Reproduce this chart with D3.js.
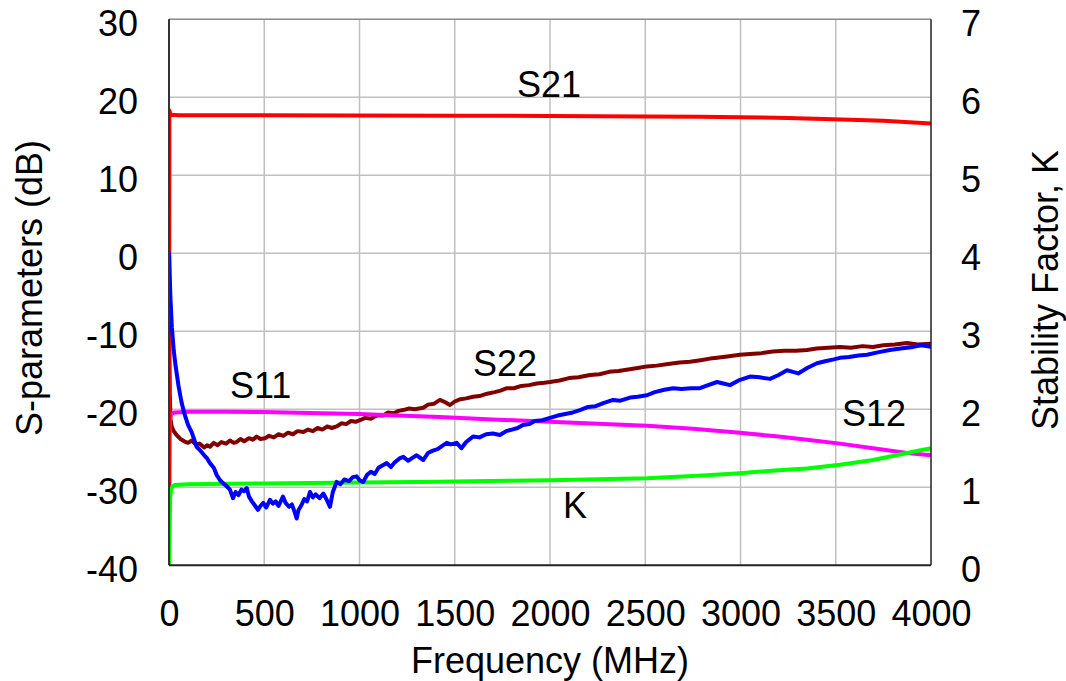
<!DOCTYPE html>
<html>
<head>
<meta charset="utf-8">
<script src="https://cdn.jsdelivr.net/npm/d3@7"></script>
<style>
  html, body { margin: 0; padding: 0; background: #fff; }
  svg { display: block; font-family: "Liberation Sans", Arial, sans-serif; }
</style>
</head>
<body>
<svg id="chart" width="1066" height="681"></svg>
<script>
// ---------------- data ----------------
const xTicks = [0, 500, 1000, 1500, 2000, 2500, 3000, 3500, 4000];
const yTicksDb = [30, 20, 10, 0, -10, -20, -30, -40];
const yTicksK = [7, 6, 5, 4, 3, 2, 1, 0];

// S21 (dB)
const s21Freq = [0, 2, 6, 12, 50, 500, 1000, 1500, 2000, 2500, 2787, 3000, 3250, 3486, 3750, 4000];
const s21Db   = [-40, 18.3, 18.0, 17.75, 17.7, 17.7, 17.68, 17.65, 17.6, 17.55, 17.5, 17.45, 17.35, 17.2, 17.0, 16.65];

// S11 (dB)
const s11Freq = [0,4,8,15,25,35,50,65,80,100,120,145,165,185,200,215,235,250,268,285,300,320,336,350,365,380,395,408,420,435,450,467,480,495,510,530,545,560,575,598,612,630,645,660,670,680,695,710,725,740,755,770,790,810,828,845,860,880,900,920,945,965,985,1000,1020,1040,1060,1080,1100,1120,1143,1165,1185,1210,1230,1255,1280,1300,1335,1360,1385,1410,1440,1458,1480,1510,1535,1560,1596,1630,1665,1700,1737,1770,1800,1830,1858,1890,1920,1960,2000,2040,2080,2120,2157,2200,2240,2280,2331,2370,2420,2460,2509,2550,2600,2646,2690,2740,2787,2830,2877,2910,2945,2990,3050,3100,3155,3200,3244,3275,3303,3350,3401,3450,3490,3522,3570,3620,3664,3720,3784,3840,3906,3950,4000];
const s11Db   = [0,-3,-6,-9.5,-12.5,-14.5,-17,-19,-20.5,-22,-23,-24.8,-25.3,-25.9,-26.3,-26.9,-27.5,-28.4,-29.1,-29.5,-29.8,-30.3,-31.4,-30.6,-31.0,-30.3,-30.5,-30.1,-31.2,-31.8,-32.3,-32.9,-32.4,-32.0,-32.6,-31.6,-32.1,-31.8,-32.4,-31.2,-32.0,-32.5,-32.2,-33.2,-34.0,-32.9,-32.3,-31.5,-31.8,-30.6,-31.3,-30.9,-31.4,-30.8,-31.6,-32.5,-30.6,-29.3,-29.6,-29.0,-29.2,-28.7,-28.6,-29.1,-29.3,-28.4,-28.0,-28.3,-27.5,-27.2,-26.9,-27.4,-26.8,-26.3,-26.1,-26.6,-26.2,-25.9,-26.5,-25.6,-25.3,-25.1,-24.6,-24.3,-24.5,-24.3,-25.0,-24.2,-23.5,-23.6,-23.2,-23.1,-23.3,-22.8,-22.6,-22.4,-22.0,-21.9,-21.5,-21.4,-21.1,-20.8,-20.6,-20.4,-20.1,-19.7,-19.6,-19.2,-18.8,-18.9,-18.5,-18.4,-18.2,-17.8,-17.5,-17.3,-17.4,-17.3,-17.3,-16.9,-16.5,-16.7,-16.9,-16.3,-15.8,-15.9,-16.1,-15.6,-15.0,-15.2,-15.4,-14.7,-14.1,-13.8,-13.6,-13.4,-13.3,-13.1,-13.0,-12.7,-12.4,-12.2,-12.0,-11.8,-12.0];

// S22 (dB)
const s22Freq = [0,4,8,15,25,40,60,80,100,120,140,160,185,200,215,235,255,275,300,320,340,355,375,395,420,440,460,480,504,525,550,575,600,625,650,675,705,730,755,780,805,830,855,880,905,930,955,980,1002,1030,1060,1090,1125,1150,1180,1205,1230,1260,1290,1335,1360,1390,1422,1450,1475,1500,1530,1560,1596,1630,1670,1710,1740,1774,1810,1850,1890,1930,1970,2000,2050,2100,2150,2210,2260,2310,2360,2410,2460,2509,2560,2620,2680,2735,2790,2840,2877,2940,2997,3050,3110,3170,3230,3290,3349,3400,3460,3522,3580,3640,3696,3750,3810,3874,3930,4000];
const s22Db   = [-8,-18,-21.3,-22.3,-22.8,-23.3,-23.8,-24.1,-24.3,-24.0,-24.5,-24.4,-24.9,-24.6,-24.8,-24.3,-24.6,-24.2,-24.4,-24.0,-24.3,-24.2,-23.8,-24.1,-23.7,-23.9,-23.5,-23.8,-23.7,-23.4,-23.6,-23.2,-23.4,-23.0,-23.2,-22.8,-22.9,-22.6,-22.8,-22.4,-22.6,-22.2,-22.4,-22.2,-21.8,-21.9,-21.5,-21.6,-21.4,-21.1,-21.2,-20.8,-20.8,-20.4,-20.5,-20.2,-20.1,-19.9,-20.0,-19.8,-19.4,-19.3,-18.8,-19.1,-19.45,-19.0,-18.7,-18.6,-18.4,-18.3,-18.0,-17.8,-17.6,-17.3,-17.3,-17.0,-16.9,-16.7,-16.6,-16.5,-16.3,-16.0,-15.9,-15.6,-15.5,-15.2,-15.1,-14.9,-14.7,-14.5,-14.4,-14.2,-14.0,-13.9,-13.7,-13.5,-13.4,-13.2,-13.0,-12.9,-12.8,-12.6,-12.5,-12.5,-12.4,-12.2,-12.1,-12.0,-12.1,-11.9,-12.0,-11.8,-11.7,-11.5,-11.7,-11.6];

// S12 (dB)
const s12Freq = [0, 4, 10, 30, 100, 300, 500, 800, 1000, 1200, 1422, 1700, 2000, 2250, 2509, 2750, 2997, 3200, 3349, 3522, 3696, 3874, 4000];
const s12Db   = [-40, -21.5, -20.6, -20.4, -20.3, -20.3, -20.35, -20.5, -20.6, -20.8, -21.0, -21.3, -21.6, -21.85, -22.1, -22.5, -23.0, -23.5, -23.9, -24.4, -25.0, -25.6, -25.9];

// Stability factor K (right axis)
const kFreq = [0, 3, 6, 10, 18, 30, 100, 500, 1000, 1422, 1685, 2000, 2509, 2800, 2997, 3200, 3349, 3522, 3696, 3874, 4000];
const kVal  = [0, 0.5, 0.85, 0.96, 1.01, 1.03, 1.04, 1.05, 1.06, 1.07, 1.08, 1.09, 1.115, 1.15, 1.18, 1.22, 1.24, 1.29, 1.35, 1.44, 1.50];

// curve labels (data coordinates, dB axis)
const labelNames = ["S21", "S11", "S22", "S12", "K"];
const labelFreq  = [1827, 320, 1596, 3533, 2068];
const labelDb    = [20.0, -18.55, -15.73, -22.14, -33.9];

// ---------------- layout ----------------
const svg = d3.select("#chart");
const L = 169, R = 931, T = 19.3, B = 565.3;
const FS = 36;

const x = d3.scaleLinear().domain([0, 4000]).range([L, R]);
const yDb = d3.scaleLinear().domain([-40, 30]).range([B, T]);
const yK = d3.scaleLinear().domain([0, 7]).range([B, T]);

// grid
const grid = svg.append("g").attr("stroke", "#c0c0c0").attr("stroke-width", 1.5);
grid.selectAll("line.v").data(xTicks.slice(1, -1)).join("line")
  .attr("x1", d => x(d)).attr("x2", d => x(d)).attr("y1", T).attr("y2", B);
grid.selectAll("line.h").data(yTicksDb.slice(1, -1)).join("line")
  .attr("x1", L).attr("x2", R).attr("y1", d => yDb(d)).attr("y2", d => yDb(d));

// clip
svg.append("clipPath").attr("id", "clip").append("rect")
  .attr("x", L).attr("y", T - 2).attr("width", R - L).attr("height", B - T + 2);

const plot = svg.append("g").attr("clip-path", "url(#clip)");

function zip(f, v) { return f.map((d, i) => [d, v[i]]); }
const lineDb = d3.line().x(d => x(d[0])).y(d => yDb(d[1]));
const lineK = d3.line().x(d => x(d[0])).y(d => yK(d[1]));

const series = [
  { data: zip(s22Freq, s22Db), color: "#800000", gen: lineDb },
  { data: zip(s12Freq, s12Db), color: "#ff00ff", gen: lineDb },
  { data: zip(s21Freq, s21Db), color: "#ff0000", gen: lineDb },
  { data: zip(kFreq, kVal), color: "#00ff00", gen: lineK },
  { data: zip(s11Freq, s11Db), color: "#0000ff", gen: lineDb },
];
series.forEach(s => {
  plot.append("path").attr("d", s.gen(s.data))
    .attr("fill", "none").attr("stroke", s.color).attr("stroke-width", 4)
    .attr("stroke-linejoin", "round").attr("stroke-linecap", "round");
});

// frame
svg.append("line").attr("x1", L).attr("x2", R).attr("y1", T).attr("y2", T).attr("stroke", "#888").attr("stroke-width", 1.5);
svg.append("line").attr("x1", R).attr("x2", R).attr("y1", T).attr("y2", B).attr("stroke", "#222").attr("stroke-width", 1.5);
svg.append("line").attr("x1", L).attr("x2", L).attr("y1", T).attr("y2", B).attr("stroke", "#333").attr("stroke-width", 2);
svg.append("line").attr("x1", L).attr("x2", R).attr("y1", B).attr("y2", B).attr("stroke", "#222").attr("stroke-width", 2);

// axes
const fmt = d => String(d);
function styleAxis(g) {
  g.select(".domain").remove();
  g.selectAll(".tick line").remove();
  g.selectAll("text").attr("font-size", FS).attr("fill", "#000")
    .attr("font-family", "'Liberation Sans', Arial, sans-serif");
}
svg.append("g").attr("transform", `translate(${L},0)`)
  .call(d3.axisLeft(yDb).tickValues(yTicksDb).tickSize(0).tickPadding(31).tickFormat(fmt))
  .call(styleAxis).selectAll("text").attr("dy", "0.46em");
svg.append("g").attr("transform", `translate(${R},0)`)
  .call(d3.axisRight(yK).tickValues(yTicksK).tickSize(0).tickPadding(30).tickFormat(fmt))
  .call(styleAxis).selectAll("text").attr("dy", "0.46em");
svg.append("g").attr("transform", `translate(0,${B})`)
  .call(d3.axisBottom(x).tickValues(xTicks).tickSize(0).tickPadding(35).tickFormat(fmt))
  .call(styleAxis);

// titles
svg.append("text").attr("x", 550).attr("y", 673).attr("text-anchor", "middle")
  .attr("font-size", FS).text("Frequency (MHz)");
svg.append("text").attr("transform", "translate(42,288) rotate(-90)").attr("text-anchor", "middle")
  .attr("font-size", FS).text("S-parameters (dB)");
svg.append("text").attr("transform", "translate(1058,290) rotate(-90)").attr("text-anchor", "middle")
  .attr("font-size", FS).text("Stability Factor, K");

// curve labels
svg.append("g").selectAll("text").data(labelNames).join("text")
  .attr("x", (d, i) => x(labelFreq[i])).attr("y", (d, i) => yDb(labelDb[i]))
  .attr("font-size", FS).attr("fill", "#000").text(d => d);
</script>
</body>
</html>
